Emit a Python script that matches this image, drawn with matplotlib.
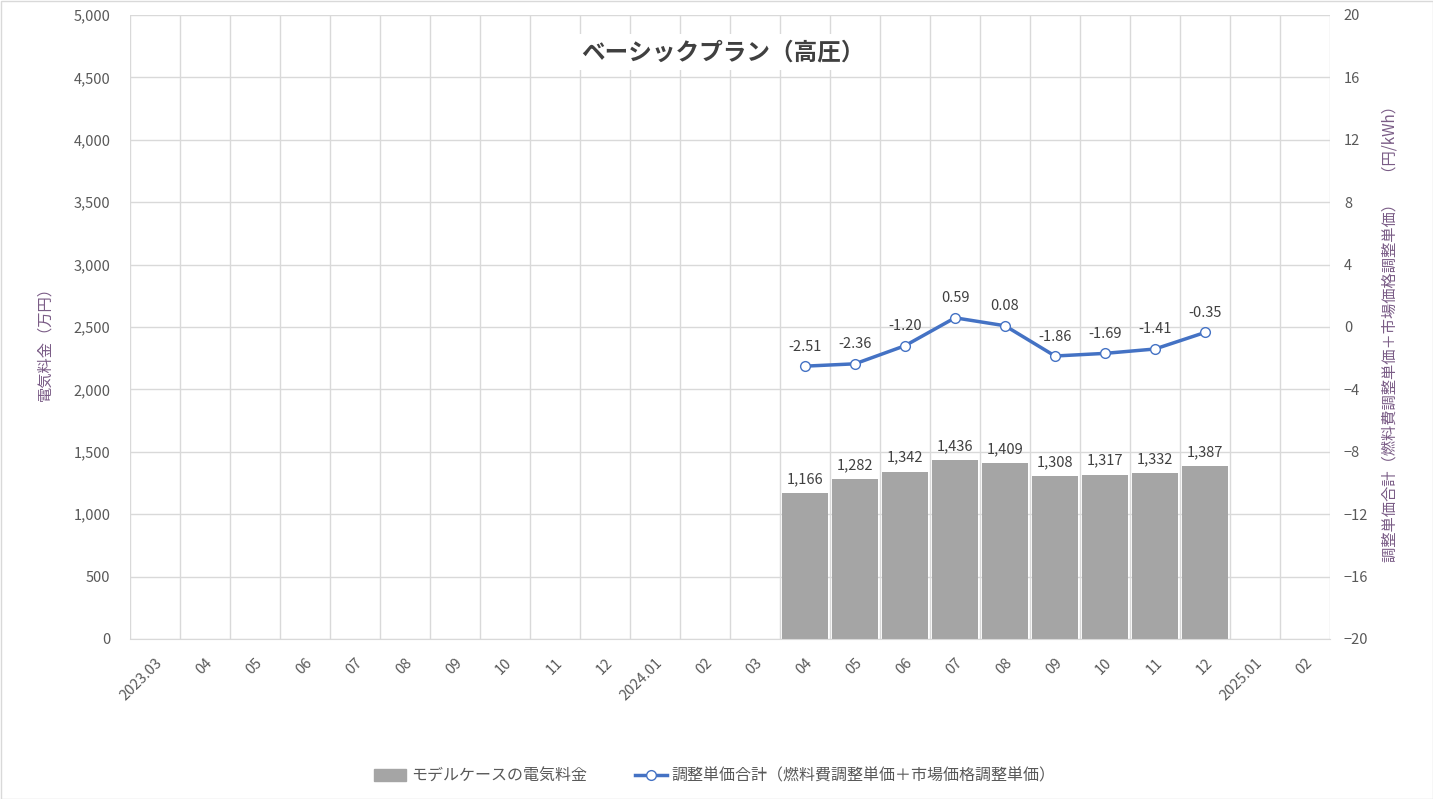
import matplotlib
matplotlib.use("Agg")
import matplotlib.pyplot as plt
from matplotlib.patches import Rectangle
from matplotlib.lines import Line2D
import numpy as np

plt.rcParams['font.family'] = ['Noto Sans CJK JP', 'DejaVu Sans']

months = ["2023.03", "04", "05", "06", "07", "08", "09", "10", "11", "12",
          "2024.01", "02", "03", "04", "05", "06", "07", "08", "09", "10", "11", "12",
          "2025.01", "02"]
bill_start = 13
bill_values = [1166, 1282, 1342, 1436, 1409, 1308, 1317, 1332, 1387]
unit_values = [-2.51, -2.36, -1.20, 0.59, 0.08, -1.86, -1.69, -1.41, -0.35]

title = "ベーシックプラン（高圧）"
left_label = "電気料金（万円）"
right_label = "調整単価合計（燃料費調整単価＋市場価格調整単価）　（円/kWh）"
bar_name = "モデルケースの電気料金"
line_name = "調整単価合計（燃料費調整単価＋市場価格調整単価）"

W, H = 1433, 799
fig = plt.figure(figsize=(W/100, H/100), dpi=100)
fig.patches.append(Rectangle((0.5/W, 0.5/H), 1-1/W, 1-1/H, transform=fig.transFigure,
                             fill=False, edgecolor='#D9D9D9', linewidth=1))

ax = fig.add_axes([130/W, 1-639/H, 1200/W, 624/H])
ax2 = ax.twinx()

grid_c = '#D9D9D9'
tick_c = '#595959'
label_c = '#7A5C86'
bar_c = '#A5A5A5'
line_c = '#4472C4'
txt_c = '#404040'

x = np.arange(len(months))
bx = x[bill_start:bill_start+len(bill_values)]

ax.set_xlim(-0.5, len(months)-0.5)
ax.set_ylim(0, 5000)
ax.set_yticks(np.arange(0, 5001, 500))
ax.set_yticklabels([f"{v:,}" for v in range(0, 5001, 500)])
ax2.set_ylim(-20, 20)
ax2.set_yticks(np.arange(-20, 21, 4))

# gridlines
for yv in range(0, 5001, 500):
    ax.axhline(yv, color=grid_c, lw=1, zorder=0)
for xv in np.arange(-0.5, len(months), 1):
    ax.axvline(xv, color=grid_c, lw=1, zorder=0)

bars = ax.bar(bx, bill_values, width=0.93, color=bar_c, zorder=2)
for xi, v in zip(bx, bill_values):
    ax.annotate(f"{v:,}", (xi, v), xytext=(0, 5), textcoords='offset points',
                ha='center', va='bottom', fontsize=10.5, color=txt_c)

ax2.plot(bx, unit_values, color=line_c, lw=2.5, marker='o', ms=7,
         markerfacecolor='white', markeredgecolor=line_c, markeredgewidth=1, zorder=3)
for xi, v in zip(bx, unit_values):
    ax2.annotate(f"{v:.2f}", (xi, v), xytext=(0, 9), textcoords='offset points',
                 ha='center', va='bottom', fontsize=10.5, color=txt_c)

ax.set_xticks(x)
ax.set_xticklabels(months, rotation=45, ha='right', rotation_mode='anchor', fontsize=10.5, color=tick_c)
ax.tick_params(axis='x', length=0, pad=12)
ax.tick_params(axis='y', length=0, labelsize=10.5, labelcolor=tick_c, pad=14)
ax2.tick_params(axis='y', length=0, labelsize=10.5, labelcolor=tick_c, pad=10)

for a in (ax, ax2):
    for s in a.spines.values():
        s.set_visible(False)
ax.spines['bottom'].set_visible(True)
ax.spines['bottom'].set_color(grid_c)

fig.text(45/W, 1-340/H, left_label, rotation=90, ha='center', va='center', fontsize=11, color=label_c)
fig.text(1390/W, 1-330/H, right_label, rotation=90, ha='center', va='center', fontsize=11, color=label_c)

fig.text(723/W, 1-52/H, title, ha='center', va='center', fontsize=17, fontweight='bold', color='#404040',
         bbox=dict(facecolor='white', edgecolor='none', pad=4))

handles = [Rectangle((0, 0), 1, 1, color=bar_c),
           Line2D([0], [0], color=line_c, lw=2.5, marker='o', ms=7, markerfacecolor='white',
                  markeredgecolor=line_c)]
fig.legend(handles, [bar_name, line_name], loc='center', bbox_to_anchor=(715/W, 1-776/H),
           ncol=2, frameon=False, fontsize=11.5, labelcolor=tick_c, handlelength=2,
           handletextpad=0.3, columnspacing=3)

fig.savefig("out.png", dpi=100)
